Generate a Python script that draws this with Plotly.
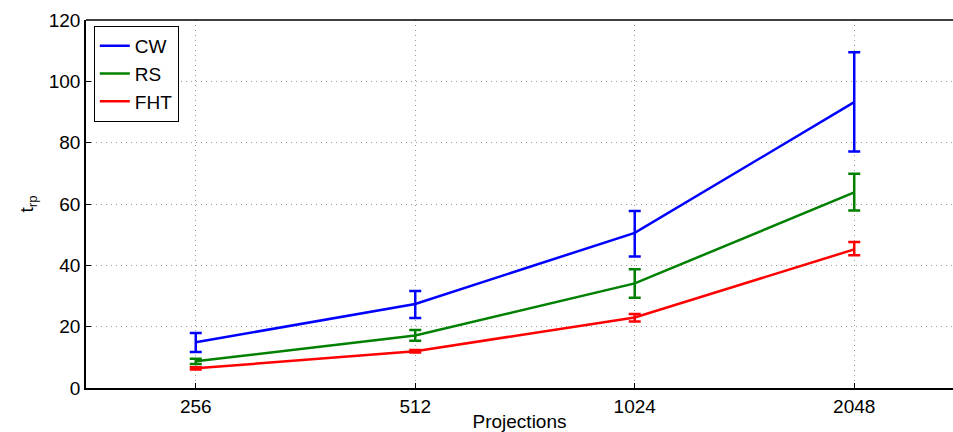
import plotly.graph_objects as go

projections = ["256", "512", "1024", "2048"]

cw_mean = [14.9, 27.4, 50.6, 93.2]
cw_upper = [17.9, 31.6, 57.7, 109.5]
cw_lower = [11.7, 22.8, 42.9, 77.1]

rs_mean = [8.7, 17.1, 34.1, 63.8]
rs_upper = [9.5, 18.9, 38.7, 69.9]
rs_lower = [7.8, 15.4, 29.4, 57.9]

fht_mean = [6.4, 12.0, 23.0, 45.2]
fht_upper = [6.8, 12.4, 24.1, 47.6]
fht_lower = [6.0, 11.6, 21.7, 43.3]

series = [
    ("CW", cw_mean, cw_upper, cw_lower, "#0000ff"),
    ("RS", rs_mean, rs_upper, rs_lower, "#008000"),
    ("FHT", fht_mean, fht_upper, fht_lower, "#ff0000"),
]

fig = go.Figure()
for name, m, up, lo, col in series:
    fig.add_trace(go.Scatter(
        x=projections, y=m, name=name, mode="lines",
        line=dict(color=col, width=2.5),
        error_y=dict(type="data", symmetric=False,
                     array=[u - v for u, v in zip(up, m)],
                     arrayminus=[v - l for v, l in zip(m, lo)],
                     color=col, thickness=2.5, width=6),
    ))

font = dict(family="Liberation Sans, Arial, sans-serif", size=19, color="#000")

fig.update_layout(
    width=953, height=432,
    margin=dict(l=86, r=0, t=20, b=42),
    paper_bgcolor="white", plot_bgcolor="white",
    font=font,
    showlegend=True,
    legend=dict(x=0.009, y=0.984, xanchor="left", yanchor="top",
                bordercolor="#000", borderwidth=1, bgcolor="white",
                font=dict(family="Liberation Sans, Arial, sans-serif", size=19),
                tracegroupgap=0, itemwidth=30),
    xaxis=dict(type="category", range=[-0.5, 3.45],
               showline=True, linecolor="#000", linewidth=1.5,
               ticks="inside", ticklen=5, tickcolor="#000",
               showgrid=True, gridcolor="#999", griddash="1px,4px", gridwidth=1,
               zeroline=False,
               title=dict(text="Projections", standoff=2, font=font)),
    yaxis=dict(range=[0, 120], dtick=20,
               showline=True, linecolor="#000", linewidth=1.5,
               ticks="inside", ticklen=5, tickcolor="#000",
               showgrid=True, gridcolor="#999", griddash="1px,4px", gridwidth=1,
               zeroline=False,
               title=dict(text="t<sub>rp</sub>", standoff=10, font=font)),
    shapes=[dict(type="line", xref="paper", yref="paper",
                 x0=0, x1=1, y0=1, y1=1,
                 line=dict(color="#000", width=1.5))],
)

fig.write_html("out.html")
